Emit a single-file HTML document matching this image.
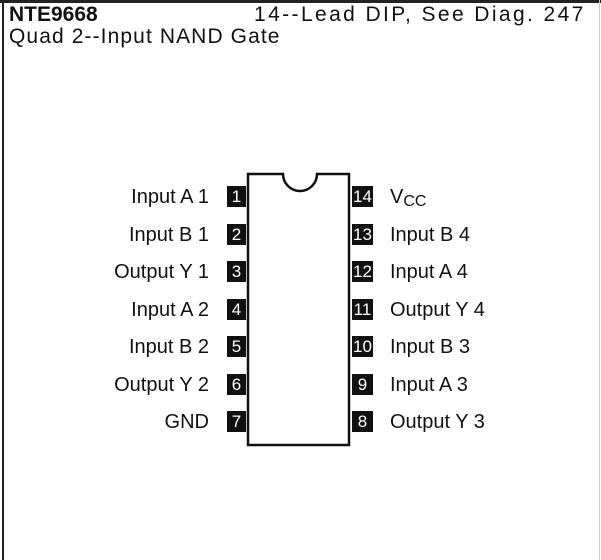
<!DOCTYPE html>
<html><head><style>
body{margin:0;width:601px;height:560px;background:#fff;position:relative;overflow:hidden;font-family:"Liberation Sans",sans-serif;color:#111}
.t{position:absolute;font-size:21px;white-space:nowrap;line-height:22px}
.p{position:absolute;width:19px;height:21px;background:#111;color:#fff;font-size:17px;line-height:21px;text-align:center}
.l{position:absolute;right:392px;font-size:20px;line-height:20px;white-space:nowrap}
.r{position:absolute;left:390px;font-size:20px;line-height:20px;white-space:nowrap}
</style></head><body>
<div style="position:absolute;left:2px;top:0;width:2px;height:560px;background:#222"></div>
<div style="position:absolute;left:0;top:0;width:601px;height:3px;background:#222"></div>
<div style="position:absolute;left:599px;top:0;width:1px;height:560px;background:#ccc"></div>
<div class="t" style="left:9px;top:4px;font-weight:bold">NTE9668</div>
<div class="t" style="left:254px;top:4px;letter-spacing:2.4px">14--Lead DIP, See Diag. 247</div>
<div class="t" style="left:9px;top:26px;letter-spacing:1.1px">Quad 2--Input NAND Gate</div>
<svg style="position:absolute;left:0;top:0" width="601" height="560">
<path d="M248 174 H283 A17 17 0 0 0 317 174 H349 V445 H248 Z" fill="none" stroke="#111" stroke-width="2.5"/>
</svg>
<div class="p" style="left:227px;top:186px">1</div>
<div class="p" style="left:227px;top:224px">2</div>
<div class="p" style="left:227px;top:261px">3</div>
<div class="p" style="left:227px;top:299px">4</div>
<div class="p" style="left:227px;top:336px">5</div>
<div class="p" style="left:227px;top:374px">6</div>
<div class="p" style="left:227px;top:411px">7</div>
<div class="p" style="left:352px;top:186px;width:21px">14</div>
<div class="p" style="left:352px;top:224px;width:21px">13</div>
<div class="p" style="left:352px;top:261px;width:21px">12</div>
<div class="p" style="left:352px;top:299px;width:21px">11</div>
<div class="p" style="left:352px;top:336px;width:21px">10</div>
<div class="p" style="left:352px;top:374px;width:21px">9</div>
<div class="p" style="left:352px;top:411px;width:21px">8</div>
<div class="l" style="top:187px">Input A 1</div>
<div class="l" style="top:225px">Input B 1</div>
<div class="l" style="top:262px">Output Y 1</div>
<div class="l" style="top:300px">Input A 2</div>
<div class="l" style="top:337px">Input B 2</div>
<div class="l" style="top:375px">Output Y 2</div>
<div class="l" style="top:412px">GND</div>
<div class="r" style="top:187px">V<span style="font-size:16px;position:relative;top:3px">CC</span></div>
<div class="r" style="top:225px">Input B 4</div>
<div class="r" style="top:262px">Input A 4</div>
<div class="r" style="top:300px">Output Y 4</div>
<div class="r" style="top:337px">Input B 3</div>
<div class="r" style="top:375px">Input A 3</div>
<div class="r" style="top:412px">Output Y 3</div>
</body></html>
